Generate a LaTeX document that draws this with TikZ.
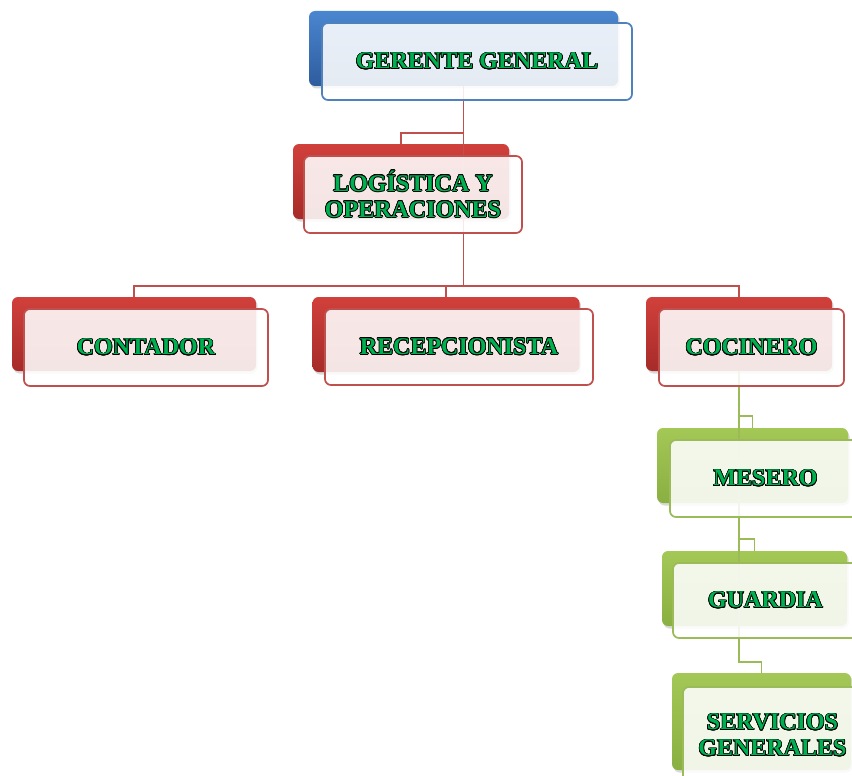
\documentclass[tikz,border=0pt]{standalone}
\usepackage{fontspec}
\setmainfont{Liberation Serif}
\usepackage[copies]{contour}
\contourlength{0.7pt}
\usetikzlibrary{shadows}
\definecolor{bluetop}{HTML}{4A86D0}
\definecolor{bluebot}{HTML}{2E5C9E}
\definecolor{blueln}{HTML}{4F81BD}
\definecolor{redtop}{HTML}{D1403B}
\definecolor{redbot}{HTML}{A62B29}
\definecolor{redln}{HTML}{C0504D}
\definecolor{grntop}{HTML}{A4C856}
\definecolor{grnbot}{HTML}{8AAF42}
\definecolor{grnln}{HTML}{9BBB59}
\definecolor{txtgreen}{HTML}{00B050}
\tikzset{
  backbox/.style={rounded corners=6pt, inner sep=0pt, draw=none,
    drop shadow={opacity=0.3, shadow xshift=1.5pt, shadow yshift=-2.5pt}},
  bblue/.style={backbox, top color=bluetop, bottom color=bluebot},
  bred/.style={backbox, top color=redtop, bottom color=redbot},
  bgrn/.style={backbox, top color=grntop, bottom color=grnbot},
  frontbox/.style={rounded corners=6pt, inner sep=0pt, line width=1.7pt,
    fill=white, fill opacity=0.88, text opacity=1, text=txtgreen, align=center,
    font=\fontsize{24}{26}\selectfont\bfseries},
  fblue/.style={frontbox, draw=blueln},
  fred/.style={frontbox, draw=redln},
  fgrn/.style={frontbox, draw=grnln},
  redl/.style={draw=redln, line width=1.8pt},
  grnl/.style={draw=grnln, line width=1.8pt},
}
\begin{document}
\begin{tikzpicture}[x=1pt, y=-1pt]
\useasboundingbox (0,0) rectangle (852,776);
% back boxes
\node[bblue, minimum width=309pt, minimum height=75pt] (gb) at (463.5,48.5) {};
\node[bred, minimum width=216pt, minimum height=75pt] (lb) at (401,181.5) {};
\node[bred, minimum width=244pt, minimum height=74pt] (cb) at (134,334) {};
\node[bred, minimum width=267pt, minimum height=75pt] (rb) at (446,334.5) {};
\node[bred, minimum width=186pt, minimum height=74pt] (kb) at (739,334) {};
\node[bgrn, minimum width=191pt, minimum height=75pt] (mb) at (752.5,465.5) {};
\node[bgrn, minimum width=185pt, minimum height=75pt] (gdb) at (754.5,588.5) {};
\node[bgrn, minimum width=179pt, minimum height=97pt] (sb) at (761.5,721.5) {};
% helper coordinates
\coordinate (k1) at (0,133);
\coordinate (bus) at (0,286);
\coordinate (k2) at (0,416);
\coordinate (k3) at (0,539);
\coordinate (k4) at (0,662);
% connectors
\draw[redl] (gb.south) -- (gb.south |- bus);
\draw[redl] (gb.south |- k1) -| (lb.north);
\draw[redl] (cb.north) -- (cb.north |- bus) -- (kb.north |- bus) -- (kb.north);
\draw[redl] (rb.north |- bus) -- (rb.north);
\draw[grnl] (kb.south) -- (kb.south |- k4) -| (sb.north);
\draw[grnl] (kb.south |- k2) -| (mb.north);
\draw[grnl] (kb.south |- k3) -| (gdb.north);
% front boxes
\node[fblue, minimum width=310pt, minimum height=77pt] (g) at (477,61.5) {\contour{black}{GERENTE GENERAL}};
\node[fred, minimum width=218pt, minimum height=77pt] (l) at (413,194.5) {\contour{black}{LOGÍSTICA Y}\\\contour{black}{OPERACIONES}};
\node[fred, minimum width=244pt, minimum height=77pt] (c) at (146,347.5) {\contour{black}{CONTADOR}};
\node[fred, minimum width=268pt, minimum height=76pt] (r) at (459,347) {\contour{black}{RECEPCIONISTA}};
\node[fred, minimum width=185pt, minimum height=77pt] (k) at (751.5,347.5) {\contour{black}{COCINERO}};
\node[fgrn, minimum width=191pt, minimum height=77pt] (m) at (765.5,478.5) {\contour{black}{MESERO}};
\node[fgrn, minimum width=185pt, minimum height=75pt] (gd) at (765.5,600.5) {\contour{black}{GUARDIA}};
\node[fgrn, minimum width=179pt, minimum height=97pt] (s) at (772.5,735.5) {\contour{black}{SERVICIOS}\\\contour{black}{GENERALES}};
\end{tikzpicture}
\end{document}
